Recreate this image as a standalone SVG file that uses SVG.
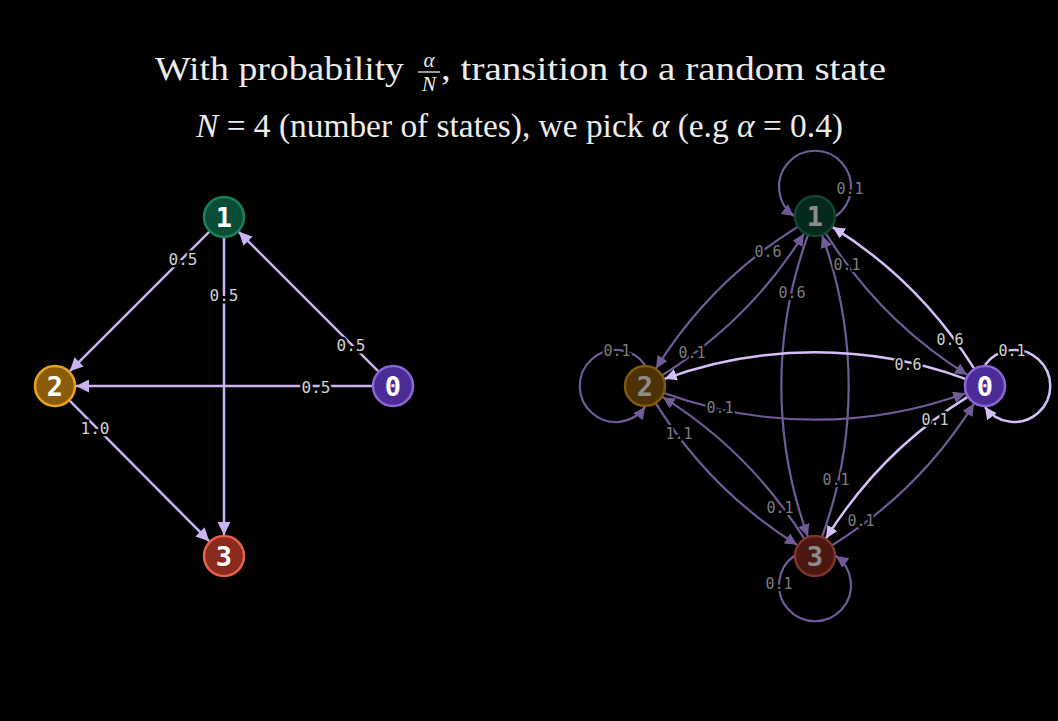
<svg xmlns="http://www.w3.org/2000/svg" width="1058" height="721" viewBox="0 0 1058 721">
<defs>
<style>
.title{font-family:"Liberation Serif","DejaVu Serif",serif;fill:#ececec;font-size:33px}
.it{font-style:italic}
.frac{font-family:"Liberation Serif","DejaVu Serif",serif;fill:#ececec;font-size:21px;font-style:italic;text-anchor:middle}
.nl{font-family:"DejaVu Sans Mono","Liberation Mono",monospace;font-weight:bold;font-size:27px;fill:#ffffff;text-anchor:middle}
.el{font-family:"DejaVu Sans Mono","Liberation Mono",monospace;font-size:16px;fill:#d2d2d2;text-anchor:middle;dominant-baseline:central;stroke:#000;stroke-width:5px;paint-order:stroke}
.rl{font-family:"DejaVu Sans Mono","Liberation Mono",monospace;font-size:15px;fill:#7c7c7c;text-anchor:middle;dominant-baseline:central;stroke:#000;stroke-width:4px;paint-order:stroke}
.rb{fill:#cfcfcf}
.le{fill:none;stroke:#c9b3f2;stroke-width:2.5;marker-end:url(#aL)}
.dim{fill:none;stroke:#6f5b98;stroke-width:2.2;marker-end:url(#aD)}
.bri{fill:none;stroke:#d4c0f7;stroke-width:2.5;marker-end:url(#aB)}
.n1{fill:#0a4d36;stroke:#1b8058;stroke-width:2.5}
.n2{fill:#8a5c0a;stroke:#eaa21c;stroke-width:2.5}
.n0{fill:#4b2b96;stroke:#8a66d6;stroke-width:2.5}
.n3{fill:#8b2a1e;stroke:#e8604f;stroke-width:2.5}
.faded{opacity:0.55}
</style>
<marker id="aL" markerUnits="userSpaceOnUse" markerWidth="14" markerHeight="13" viewBox="0 0 14 13" refX="13" refY="6.5" orient="auto"><path d="M0,0 L13,6.5 L0,13 z" fill="#c9b3f2"/></marker>
<marker id="aD" markerUnits="userSpaceOnUse" markerWidth="13" markerHeight="12" viewBox="0 0 13 12" refX="12" refY="6" orient="auto"><path d="M0,0 L12,6 L0,12 z" fill="#6f5b98"/></marker>
<marker id="aB" markerUnits="userSpaceOnUse" markerWidth="13" markerHeight="12" viewBox="0 0 13 12" refX="12" refY="6" orient="auto"><path d="M0,0 L12,6 L0,12 z" fill="#d4c0f7"/></marker>
</defs>
<rect width="1058" height="721" fill="#000"/>

<g id="title">
<text class="title" x="155" y="80" textLength="249" lengthAdjust="spacingAndGlyphs">With probability</text>
<text class="frac" x="429" y="67">α</text>
<line x1="418" y1="72" x2="440" y2="72" stroke="#ececec" stroke-width="1.3"/>
<text class="frac" x="429" y="91">N</text>
<text class="title" x="441" y="80" textLength="445" lengthAdjust="spacingAndGlyphs">, transition to a random state</text>
<text class="title" x="196" y="137" textLength="647" lengthAdjust="spacingAndGlyphs"><tspan class="it">N</tspan> = 4 (number of states), we pick <tspan class="it">α</tspan> (e.g <tspan class="it">α</tspan> = 0.4)</text>
</g>

<g id="left-connectors">
<line class="le" x1="209.15" y1="231.85" x2="69.85" y2="371.15"/>
<line class="le" x1="224" y1="238" x2="224" y2="535"/>
<line class="le" x1="378.15" y1="371.15" x2="238.85" y2="231.85"/>
<line class="le" x1="372" y1="386" x2="76" y2="386"/>
<line class="le" x1="69.85" y1="400.85" x2="209.15" y2="541.15"/>
<text class="el" x="183" y="259">0.5</text>
<text class="el" x="224" y="295">0.5</text>
<text class="el" x="351" y="345">0.5</text>
<text class="el" x="316" y="387">0.5</text>
<text class="el" x="95" y="428">1.0</text>
</g>

<g id="left-node-1"><circle class="n1" cx="224" cy="217" r="20"/><text class="nl" x="224" y="226.5">1</text></g>
<g id="left-node-2"><circle class="n2" cx="55" cy="386" r="20"/><text class="nl" x="55" y="395.5">2</text></g>
<g id="left-node-0"><circle class="n0" cx="393" cy="386" r="20"/><text class="nl" x="393" y="395.5">0</text></g>
<g id="left-node-3"><circle class="n3" cx="224" cy="556" r="20"/><text class="nl" x="224" y="565.5">3</text></g>

<g id="right-connectors">
<path class="dim" d="M836,216 A36,36 0 1 0 794,216"/>
<path class="dim" d="M645,365 A36,36 0 1 0 645,407"/>
<path class="dim" d="M794,556 A36,36 0 1 0 836,556"/>
<path class="dim" d="M797.19,227.13 A443.3,443.3 0 0 0 656.13,368.19"/>
<path class="dim" d="M662.81,374.87 A443.3,443.3 0 0 0 803.87,233.81"/>
<path class="dim" d="M826.13,233.81 A443.3,443.3 0 0 0 967.19,374.87"/>
<path class="dim" d="M656.13,403.81 A443.3,443.3 0 0 0 797.19,544.87"/>
<path class="dim" d="M803.87,538.19 A443.3,443.3 0 0 0 662.81,397.13"/>
<path class="dim" d="M832.81,544.87 A443.3,443.3 0 0 0 973.87,403.81"/>
<path class="dim" d="M664.73,393.18 A439.4,439.4 0 0 0 965.27,393.18"/>
<path class="dim" d="M807.82,235.73 A439.4,439.4 0 0 0 807.82,536.27"/>
<path class="dim" d="M822.18,536.27 A439.4,439.4 0 0 0 822.18,235.73"/>
<path class="bri" d="M985,365 A36,36 0 1 1 985,407"/>
<path class="bri" d="M973.87,368.19 A443.3,443.3 0 0 0 832.81,227.13"/>
<path class="bri" d="M965.27,378.82 A439.4,439.4 0 0 0 664.73,378.82"/>
<path class="bri" d="M967.19,397.13 A443.3,443.3 0 0 0 826.13,538.19"/>
<text class="rl" x="850" y="189">0.1</text>
<text class="rl" x="768" y="252">0.6</text>
<text class="rl" x="847" y="265">0.1</text>
<text class="rl" x="792" y="293">0.6</text>
<text class="rl" x="692" y="353">0.1</text>
<text class="rl" x="617" y="351">0.1</text>
<text class="rl" x="720" y="408">0.1</text>
<text class="rl" x="679" y="434">1.1</text>
<text class="rl" x="836" y="480">0.1</text>
<text class="rl" x="780" y="508">0.1</text>
<text class="rl" x="861" y="521">0.1</text>
<text class="rl" x="779" y="584">0.1</text>
<text class="rl rb" x="950" y="340">0.6</text>
<text class="rl rb" x="908" y="365">0.6</text>
<text class="rl rb" x="1012" y="351">0.1</text>
<text class="rl rb" x="935" y="420">0.1</text>
</g>

<g id="right-node-1" class="faded"><circle class="n1" cx="815" cy="216" r="20"/><text class="nl" x="815" y="225.5">1</text></g>
<g id="right-node-2" class="faded"><circle class="n2" cx="645" cy="386" r="20"/><text class="nl" x="645" y="395.5">2</text></g>
<g id="right-node-0"><circle class="n0" cx="985" cy="386" r="20"/><text class="nl" x="985" y="395.5">0</text></g>
<g id="right-node-3" class="faded"><circle class="n3" cx="815" cy="556" r="20"/><text class="nl" x="815" y="565.5">3</text></g>
</svg>
